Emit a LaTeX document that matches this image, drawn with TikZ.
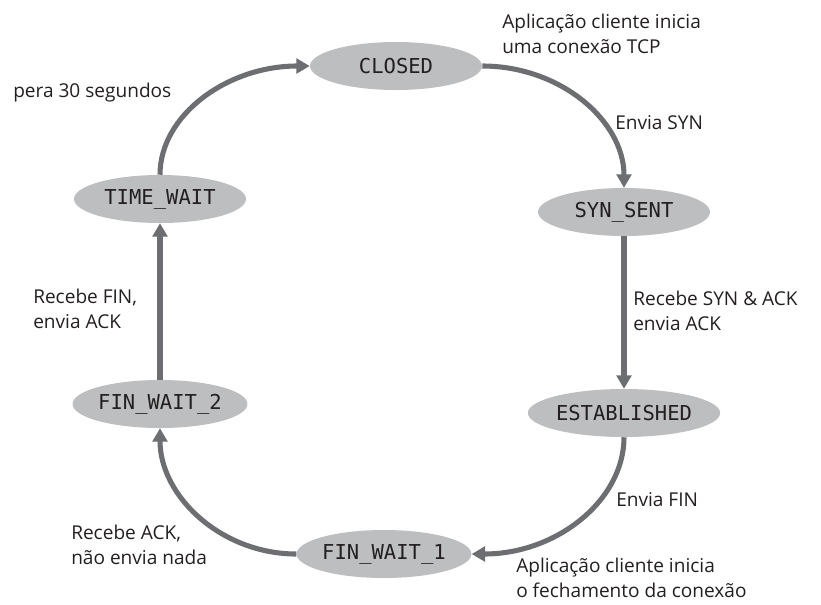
\documentclass[tikz,border=0pt]{standalone}
\usepackage{fontspec}
\setmainfont{Open Sans}
\newfontfamily\statefont{DejaVu Sans Mono}
\usetikzlibrary{arrows.meta,shapes.geometric}
\definecolor{arrowgray}{HTML}{6D6E71}
\definecolor{nodegray}{HTML}{BCBEC0}
\definecolor{txt}{HTML}{231F20}
\begin{document}
\begin{tikzpicture}[x=0.75pt,y=-0.75pt,
  state/.style={ellipse, fill=nodegray, minimum width=129pt, minimum height=36pt, inner sep=0pt,
    font=\statefont\fontsize{15.4}{18}\selectfont, text=txt},
  lbl/.style={font=\fontsize{14.3}{18.5}\selectfont, text=txt, align=left, anchor=west, inner sep=0pt},
  conn/.style={draw=arrowgray, line width=3.8pt, -{Triangle[width=11pt,length=10pt]}}]
\useasboundingbox (0,0) rectangle (821,604);
\node[state] (closed) at (396,66) {CLOSED};
\node[state] (synsent) at (624,212) {SYN\_SENT};
\node[state] (est) at (624,413) {ESTABLISHED};
\node[state] (fw1) at (384,554) {FIN\_WAIT\_1};
\node[state] (fw2) at (160,404) {FIN\_WAIT\_2};
\node[state] (tw) at (160,199) {TIME\_WAIT};
\draw[conn] (closed.east) .. controls +(78,0) and +(0,-67) .. (synsent.north);
\draw[conn] (synsent.south) -- (est.north);
\draw[conn] (est.south) .. controls +(0,63) and +(85,0) .. (fw1.east);
\draw[conn] (fw1.west) .. controls +(-75,0) and +(0,68) .. (fw2.south);
\draw[conn] (fw2.north) -- (tw.south);
\draw[conn] (tw.north) .. controls +(0,-60) and +(-82,0) .. (closed.west);
\node[lbl] (l1) at (13,93) {pera 30 segundos};
\node[lbl] (l2) at (502,34) {Aplicação cliente inicia\\uma conexão TCP};
\node[lbl] (l3) at (615,123) {Envia SYN};
\node[lbl] (l4) at (633,311) {Recebe SYN \& ACK\\envia ACK};
\node[lbl] (l5) at (33,309) {Recebe FIN,\\envia ACK};
\node[lbl] (l6) at (616,500) {Envia FIN};
\node[lbl] (l7) at (71,545) {Recebe ACK,\\não envia nada};
\node[lbl] (l8) at (516,578) {Aplicação cliente inicia\\o fechamento da conexão};
\end{tikzpicture}
\end{document}
